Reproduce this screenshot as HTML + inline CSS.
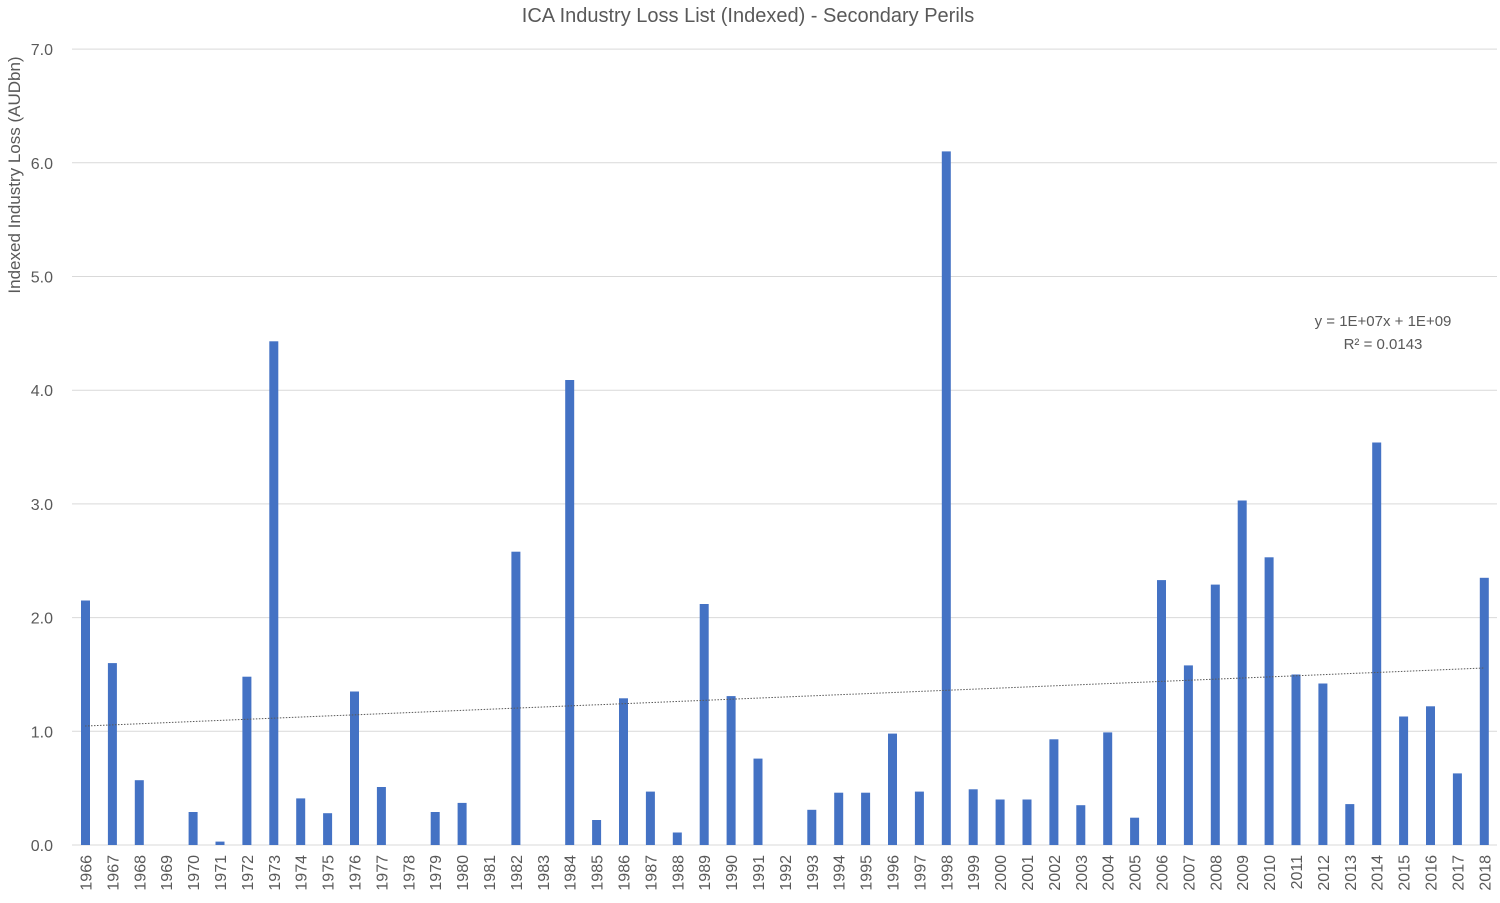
<!DOCTYPE html>
<html><head><meta charset="utf-8"><style>
html,body{margin:0;padding:0;background:#fff;}
svg{display:block;font-family:"Liberation Sans",sans-serif;}
</style></head><body>
<svg id="c" width="1500" height="903" xmlns="http://www.w3.org/2000/svg">
<rect width="1500" height="903" fill="#fff"/>
<text x="748" y="22" font-size="20" fill="#595959" text-anchor="middle">ICA Industry Loss List (Indexed) - Secondary Perils</text>
<text transform="translate(20,175) rotate(-90)" font-size="17" fill="#595959" text-anchor="middle">Indexed Industry Loss (AUDbn)</text>
<text x="1383" y="326" font-size="15" fill="#595959" text-anchor="middle">y = 1E+07x + 1E+09</text>
<text x="1383" y="349" font-size="15" fill="#595959" text-anchor="middle">R² = 0.0143</text>
<g id="g"></g>
</svg>
<script>
var vals=[2.15,1.60,0.57,0,0.29,0.03,1.48,4.43,0.41,0.28,1.35,0.51,0,0.29,0.37,0,2.58,0,4.09,0.22,1.29,0.47,0.11,2.12,1.31,0.76,0,0.31,0.46,0.46,0.98,0.47,6.10,0.49,0.40,0.40,0.93,0.35,0.99,0.24,2.33,1.58,2.29,3.03,2.53,1.50,1.42,0.36,3.54,1.13,1.22,0.63,2.35];
var y0=845,u=113.7,h='';
for(var i=0;i<=7;i++){var y=y0-i*u;
h+='<line x1="72" x2="1497" y1="'+y.toFixed(1)+'" y2="'+y.toFixed(1)+'" stroke="#d9d9d9" stroke-width="1"/>';
h+='<text x="53" y="'+(y+6).toFixed(1)+'" font-size="16" fill="#595959" text-anchor="end">'+i.toFixed(1)+'</text>';}
for(var j=0;j<vals.length;j++){var x=85.5+j*26.9,v=vals[j];
if(v>0)h+='<rect x="'+(x-4.5).toFixed(1)+'" y="'+(y0-v*u).toFixed(1)+'" width="9" height="'+(v*u).toFixed(1)+'" fill="#4472c4"/>';
h+='<text transform="translate('+(x+6).toFixed(1)+',855) rotate(-90)" font-size="16" fill="#595959" text-anchor="end">'+(1966+j)+'</text>';}
h+='<line x1="85" y1="726" x2="1484" y2="668" stroke="#595959" stroke-width="1" stroke-dasharray="1.5,1.5"/>';
document.getElementById('g').innerHTML=h;
</script>
</body></html>
